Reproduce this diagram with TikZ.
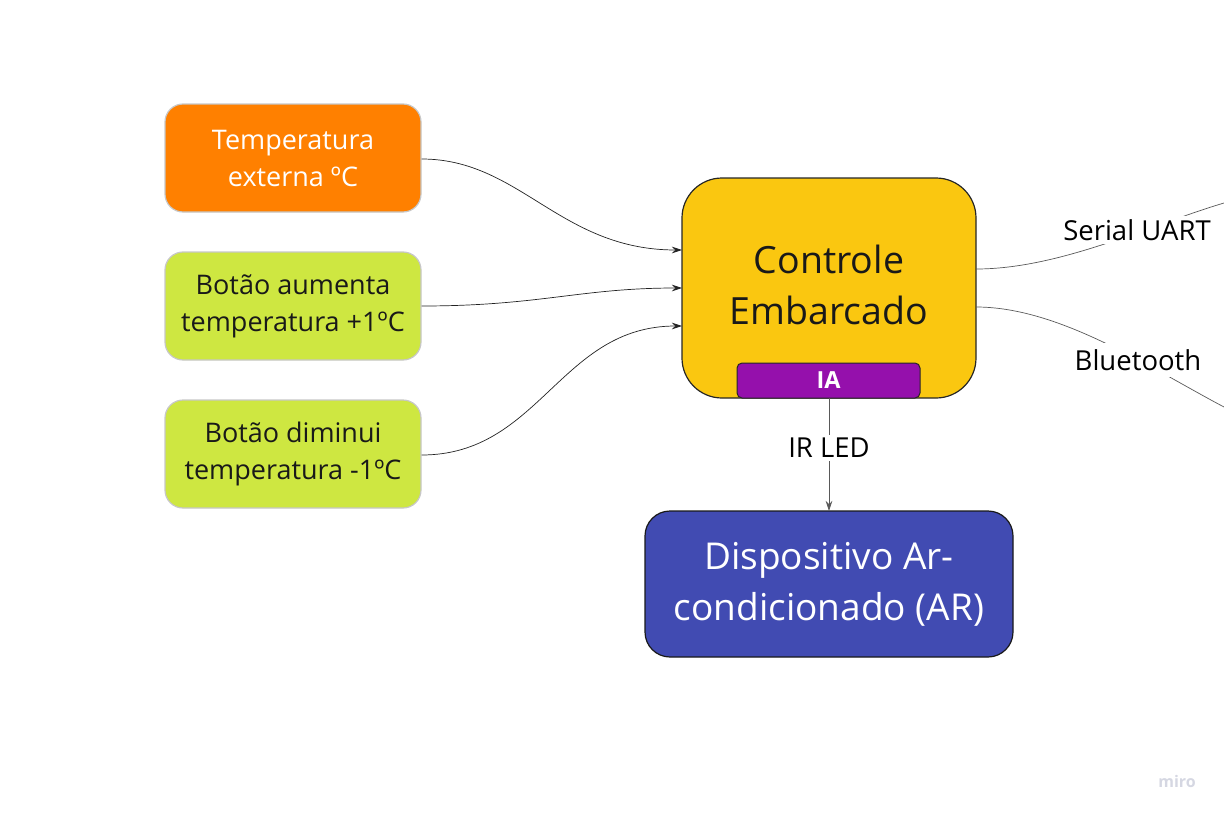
\documentclass[tikz,border=0pt]{standalone}
\usepackage{fontspec}
\setmainfont{Open Sans}
\usetikzlibrary{arrows.meta}
\definecolor{orangeA}{HTML}{FF8000}
\definecolor{limeA}{HTML}{CEE741}
\definecolor{goldA}{HTML}{FAC710}
\definecolor{purpA}{HTML}{9510AC}
\definecolor{blueA}{HTML}{414BB2}
\definecolor{edgeA}{HTML}{222222}
\definecolor{miroA}{HTML}{D5D7E2}
\tikzset{
  srcbox/.style={rounded corners=18pt, draw=black!22, line width=1.2pt, minimum width=256pt, minimum height=108pt, align=center, inner sep=0pt},
  conn/.style={draw=edgeA, line width=0.7pt, -{Stealth[length=10pt,width=6.5pt]}},
  link/.style={draw=black!65, line width=0.7pt},
  lbl/.style={fill=white, font=\fontsize{27.5}{30}\selectfont, inner sep=3pt, text=black}
}
\begin{document}
\begin{tikzpicture}[x=1pt,y=-1pt]
\useasboundingbox (0,0) rectangle (1224,816);
\clip (0,0) rectangle (1224,816);
\node[srcbox, fill=orangeA, text=white, font=\fontsize{27}{37}\selectfont] (temp) at (293,158) {Temperatura\\externa ºC};
\node[srcbox, fill=limeA, text=black!90, font=\fontsize{27}{37}\selectfont] (up) at (293,306) {Botão aumenta\\temperatura +1ºC};
\node[srcbox, fill=limeA, text=black!90, font=\fontsize{27}{37}\selectfont] (down) at (293,454) {Botão diminui\\temperatura -1ºC};
\node[rounded corners=40pt, draw=black!85, line width=1.2pt, fill=goldA, minimum width=294pt, minimum height=220pt, inner sep=0pt] (ctrl) at (829,288) {};
\node[font=\fontsize{37.5}{51}\selectfont, align=center, text=black!90] (ctrltxt) at (829,285) {Controle\\Embarcado};
\node[rounded corners=5pt, draw=black!85, line width=1pt, fill=purpA, minimum width=183pt, minimum height=35pt, inner sep=0pt, text=white, font=\fontsize{23.5}{26}\selectfont\bfseries] (ia) at (828.5,380.5) {IA};
\node[rounded corners=25pt, draw=black!90, line width=1.2pt, fill=blueA, minimum width=368pt, minimum height=146pt, inner sep=0pt, text=white, align=center, font=\fontsize{37}{51}\selectfont] (ac) at (829,584) {Dispositivo Ar-\\condicionado (AR)};
\coordinate (t1) at (682,250);
\coordinate (t2) at (682,288);
\coordinate (t3) at (682,326);
\draw[conn] (temp.east |- 0,159) .. controls (520,159) and (560,250) .. (t1);
\draw[conn] (up.east |- 0,306) .. controls (540,306) and (580,288) .. (t2);
\draw[conn] (down.east |- 0,455) .. controls (540,455) and (560,326) .. (t3);
\coordinate (iabot) at (829,398);
\coordinate (actop) at (829,511);
\draw[conn, draw=black!65] (iabot) -- (actop);
\node[lbl] (irled) at (829,448) {IR LED};
\coordinate (s0) at (976,269);
\coordinate (s1) at (1224,203);
\draw[link] (s0) .. controls (1060,269) and (1150,225) .. (s1);
\node[lbl] (uart) at (1137,230) {Serial UART};
\coordinate (b0) at (976,307);
\coordinate (b1) at (1224,407);
\draw[link] (b0) .. controls (1060,307) and (1150,368) .. (b1);
\node[lbl, inner ysep=6pt] (bt) at (1138,360) {Bluetooth};
\node[text=miroA, font=\fontsize{16}{18}\selectfont\bfseries] (miro) at (1177,781) {miro};
\end{tikzpicture}
\end{document}
